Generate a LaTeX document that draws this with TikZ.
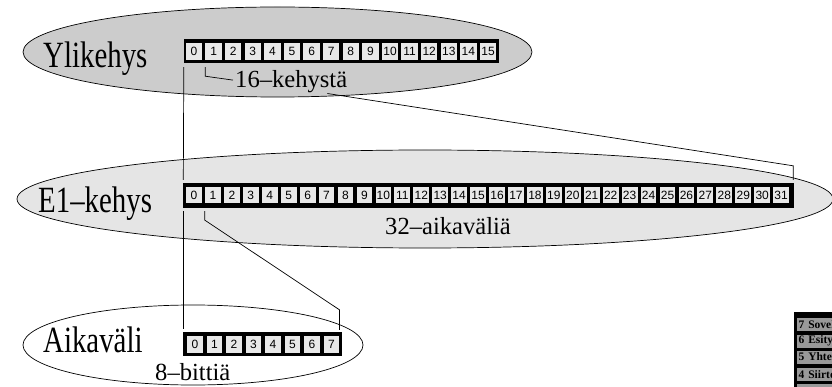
\documentclass[tikz,border=0pt]{standalone}
\usepackage{fontspec}
\setmainfont{Liberation Serif}
\newfontfamily\labelfont[FakeStretch=0.78]{Liberation Serif}
\newfontfamily\cellfont{Liberation Sans}
\usetikzlibrary{calc}

\definecolor{superfill}{gray}{0.8}
\definecolor{framefill}{gray}{0.9}
\definecolor{cellfill}{gray}{0.91}
\definecolor{layerfill}{gray}{0.6}

\tikzset{
  biglabel/.style={anchor=base west, inner sep=0pt, font=\labelfont\fontsize{37}{40}\selectfont},
  sublabel/.style={anchor=base west, inner sep=0pt, font=\fontsize{24.6}{28}\selectfont},
  regbar/.style={fill=black, draw=none, inner sep=0pt},
  cellbox/.style={fill=cellfill, draw=none, inner sep=0pt,
    font=\cellfont\fontsize{12}{13}\selectfont},
  conn/.style={draw=black, line width=0.7pt},
  blob/.style={draw=black, line width=0.7pt},
  layer/.style={fill=layerfill, anchor=north west, inner xsep=1.5pt, inner ysep=0pt,
    minimum height=13pt, text width=80pt, align=left,
    font=\bfseries\fontsize{11.5}{12}\selectfont},
}

\begin{document}
\begin{tikzpicture}[x=1pt, y=-1pt]
  \useasboundingbox (0,0) rectangle (832,387);
  \clip (0,0) rectangle (832,387);

  % ellipses behind the three levels
  \filldraw[blob, fill=superfill] (277.5,52) ellipse [x radius=254.5, y radius=45];
  \filldraw[blob, fill=framefill] (425,199) ellipse [x radius=408, y radius=49];
  \draw[blob] (193,345) ellipse [x radius=170, y radius=40];

  % multiframe: 16 frames
  \node[regbar, minimum width=315pt, minimum height=24pt] (topbar) at (341.5,51) {};
  \foreach \i in {0,...,15}
    \node[cellbox, minimum width=16.5pt, minimum height=16.5pt] (top-\i) at ({194+19.6*\i},51.5) {\i};

  % E1 frame: 32 time slots
  \node[regbar, minimum width=611pt, minimum height=25pt] (e1bar) at (488.5,195.5) {};
  \foreach \i in {0,...,31}
    \node[cellbox, minimum width=15.8pt, minimum height=16pt] (e1-\i) at ({194+18.94*\i},195.5) {\i};

  % time slot: 8 bits
  \node[regbar, minimum width=159pt, minimum height=24pt] (aikabar) at (262.5,344) {};
  \foreach \i in {0,...,7}
    \node[cellbox, minimum width=15.5pt, minimum height=17pt] (aika-\i) at ({195+19.5*\i},344.5) {\i};

  % level names
  \node[biglabel] (ylik) at (43,68) {Ylikehys};
  \node[biglabel] (e1k) at (38,213) {E1–kehys};
  \node[biglabel] (aikav) at (43,352) {Aikaväli};

  % counts
  \node[sublabel] (k16) at (235,88) {16–kehystä};
  \node[sublabel] (a32) at (385,235) {32–aikaväliä};
  \node[sublabel] (b8) at (155,380) {8–bittiä};

  % connectors
  \draw[conn] ($(topbar.south west)+(0,4)$) -- ($(e1bar.north west)+(0.5,-3)$);
  \draw[conn] ($(e1bar.south west)+(0.5,3)$) -- ($(aikabar.north west)+(0.5,-3)$);
  \draw[conn] ($(topbar.south -| top-1.west)+(0,4)$) -- ++(0,9) -- ($(k16.west)+(-2,-2)$);
  \draw[conn] ($(k16.south east)+(-20,0)$) -- ($(e1bar.north east)+(-1,-17)$)
              -- ($(e1bar.north east)+(-1,-3)$);
  \draw[conn] ($(e1bar.south -| e1-1.west)+(0,3)$) -- ++(0,9)
              -- ($(aikabar.north -| aika-7.east)+(0,-22)$)
              -- ($(aikabar.north -| aika-7.east)+(0,-2)$);

  % layer table at the lower right
  \fill[black] (794,312) rectangle (845,400);
  \node[layer] (osi7) at (797,318) {7 Sovellus};
  \node[layer] (osi6) at (797,334.5) {6 Esitys};
  \node[layer] (osi5) at (797,351) {5 Yhteys};
  \node[layer] (osi4) at (797,367.5) {4 Siirto};
  \fill[layerfill] (797,384) rectangle (845,400);
\end{tikzpicture}
\end{document}
